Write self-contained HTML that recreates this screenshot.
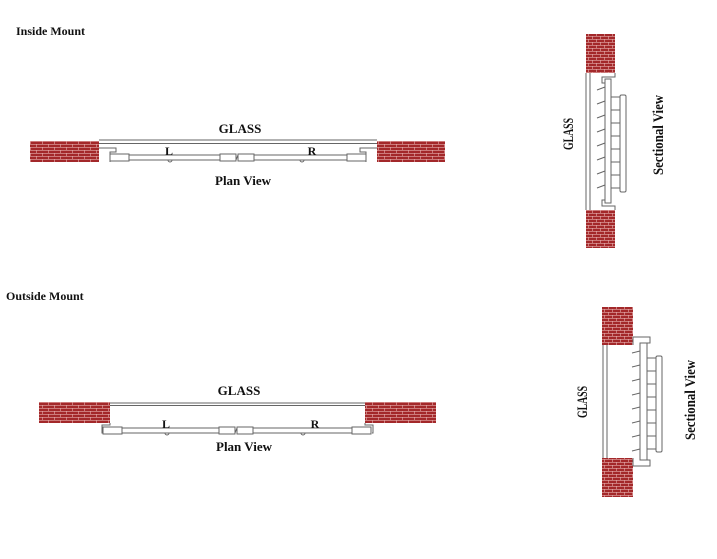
<!DOCTYPE html>
<html><head><meta charset="utf-8"><style>
html,body{margin:0;padding:0;background:#fff;}
svg{display:block;}
text{font-family:"Liberation Serif",serif;font-weight:bold;fill:#111;}
</style></head><body>
<svg width="717" height="559" viewBox="0 0 717 559" xmlns="http://www.w3.org/2000/svg">
<defs>
<pattern id="brick" width="12" height="6" patternUnits="userSpaceOnUse">
<rect width="12" height="6" fill="#a3282a"/>
<line x1="0" y1="0.3" x2="12" y2="0.3" stroke="#e8b0b0" stroke-width="0.6"/>
<line x1="0" y1="3.3" x2="12" y2="3.3" stroke="#e8b0b0" stroke-width="0.6"/>
<line x1="0.3" y1="0" x2="0.3" y2="3" stroke="#e8b0b0" stroke-width="0.6"/>
<line x1="6.3" y1="3" x2="6.3" y2="6" stroke="#e8b0b0" stroke-width="0.6"/>
</pattern>
<pattern id="brickv" width="8" height="6" patternUnits="userSpaceOnUse">
<rect width="8" height="6" fill="#a3282a"/>
<line x1="0" y1="0.3" x2="8" y2="0.3" stroke="#e8b0b0" stroke-width="0.6"/>
<line x1="0" y1="3.3" x2="8" y2="3.3" stroke="#e8b0b0" stroke-width="0.6"/>
<line x1="0.3" y1="0" x2="0.3" y2="3" stroke="#e8b0b0" stroke-width="0.6"/>
<line x1="4.3" y1="3" x2="4.3" y2="6" stroke="#e8b0b0" stroke-width="0.6"/>
</pattern>
</defs>

<text x="16" y="35" font-size="12">Inside Mount</text>
<text x="6" y="300" font-size="12">Outside Mount</text>

<g stroke="#666" stroke-width="1" fill="none">
<rect x="30" y="141" width="69" height="21" fill="url(#brick)" stroke="none"/>
<rect x="377" y="141" width="68" height="21" fill="url(#brick)" stroke="none"/>
<line x1="99" y1="140" x2="377" y2="140"/>
<line x1="99" y1="143.5" x2="377" y2="143.5"/>
<path d="M99 148 H116 V152 H110 V162"/>
<path d="M377 148 H360 V152 H366 V162"/>
<rect x="110" y="154" width="19" height="7"/>
<line x1="129" y1="155" x2="220" y2="155"/><line x1="129" y1="160" x2="220" y2="160"/>
<rect x="220" y="154" width="16" height="7"/><rect x="238" y="154" width="16" height="7"/>
<line x1="236" y1="160" x2="238" y2="155"/>
<line x1="254" y1="155" x2="347" y2="155"/><line x1="254" y1="160" x2="347" y2="160"/>
<rect x="347" y="154" width="19" height="7"/>
<path d="M168 160 a2 2 0 0 0 4 0"/><path d="M300 160 a2 2 0 0 0 4 0"/>
</g>
<text x="240" y="133" font-size="13" text-anchor="middle">GLASS</text>
<text x="169" y="155" font-size="12" text-anchor="middle">L</text>
<text x="312" y="155" font-size="12" text-anchor="middle">R</text>
<text x="243" y="185" font-size="13" text-anchor="middle">Plan View</text>

<g stroke="#666" stroke-width="1" fill="none">
<rect x="39" y="402" width="71" height="21" fill="url(#brick)" stroke="none"/>
<rect x="365" y="402" width="71" height="21" fill="url(#brick)" stroke="none"/>
<line x1="110" y1="403" x2="365" y2="403"/>
<line x1="110" y1="405.5" x2="365" y2="405.5"/>
<path d="M110 423 V425 H102 V433 H103"/>
<path d="M365 423 V425 H373 V433 H372"/>
<rect x="103" y="427" width="19" height="7"/>
<line x1="122" y1="428" x2="219" y2="428"/><line x1="122" y1="433" x2="219" y2="433"/>
<rect x="219" y="427" width="16" height="7"/><rect x="237" y="427" width="16" height="7"/>
<line x1="235" y1="433" x2="237" y2="428"/>
<line x1="253" y1="428" x2="352" y2="428"/><line x1="253" y1="433" x2="352" y2="433"/>
<rect x="352" y="427" width="19" height="7"/>
<path d="M165 433 a2 2 0 0 0 4 0"/><path d="M301 433 a2 2 0 0 0 4 0"/>
</g>
<text x="239" y="395" font-size="13" text-anchor="middle">GLASS</text>
<text x="166" y="428" font-size="12" text-anchor="middle">L</text>
<text x="315" y="428" font-size="12" text-anchor="middle">R</text>
<text x="244" y="451" font-size="13" text-anchor="middle">Plan View</text>

<g stroke="#666" stroke-width="1" fill="none">
<rect x="586" y="34" width="29" height="39" fill="url(#brickv)" stroke="none"/>
<rect x="586" y="210" width="29" height="38" fill="url(#brickv)" stroke="none"/>
<line x1="586" y1="73" x2="586" y2="210"/><line x1="590" y1="73" x2="590" y2="210"/>
<path d="M615 73 V77 H602 V83 H605"/>
<path d="M615 210 V206 H602 V200 H605"/>
<rect x="605" y="79" width="6" height="124"/>
<path d="M597 90 L605 87 M597 104 L605 101 M597 118 L605 115 M597 132 L605 129 M597 146 L605 143 M597 160 L605 157 M597 174 L605 171 M597 188 L605 185"/>
<path d="M611 97 H620 M611 110 H620 M611 123 H620 M611 136 H620 M611 149 H620 M611 162 H620 M611 175 H620 M611 188 H620"/>
<rect x="620" y="95" width="6" height="97" rx="1.5"/>
</g>
<text transform="translate(573,134) rotate(-90)" font-size="15" text-anchor="middle" textLength="32" lengthAdjust="spacingAndGlyphs">GLASS</text>
<text transform="translate(663,135) rotate(-90)" font-size="15" text-anchor="middle" textLength="80" lengthAdjust="spacingAndGlyphs">Sectional View</text>

<g stroke="#666" stroke-width="1" fill="none">
<rect x="602" y="307" width="31" height="38" fill="url(#brickv)" stroke="none"/>
<rect x="602" y="458" width="31" height="39" fill="url(#brickv)" stroke="none"/>
<line x1="603" y1="345" x2="603" y2="458"/><line x1="607" y1="345" x2="607" y2="458"/>
<path d="M633 337 H650 V343 H647"/>
<path d="M633 466 H650 V460 H647"/>
<line x1="633" y1="337" x2="633" y2="345"/><line x1="633" y1="458" x2="633" y2="466"/>
<rect x="640" y="343" width="7" height="117"/>
<path d="M632 353 L640 351 M632 367 L640 365 M632 381 L640 379 M632 395 L640 393 M632 409 L640 407 M632 423 L640 421 M632 437 L640 435 M632 451 L640 449"/>
<path d="M647 358 H656 M647 371 H656 M647 384 H656 M647 397 H656 M647 410 H656 M647 423 H656 M647 436 H656 M647 449 H656"/>
<rect x="656" y="356" width="6" height="96" rx="1.5"/>
</g>
<text transform="translate(587,402) rotate(-90)" font-size="15" text-anchor="middle" textLength="32" lengthAdjust="spacingAndGlyphs">GLASS</text>
<text transform="translate(695,400) rotate(-90)" font-size="15" text-anchor="middle" textLength="80" lengthAdjust="spacingAndGlyphs">Sectional View</text>
</svg>
</body></html>
